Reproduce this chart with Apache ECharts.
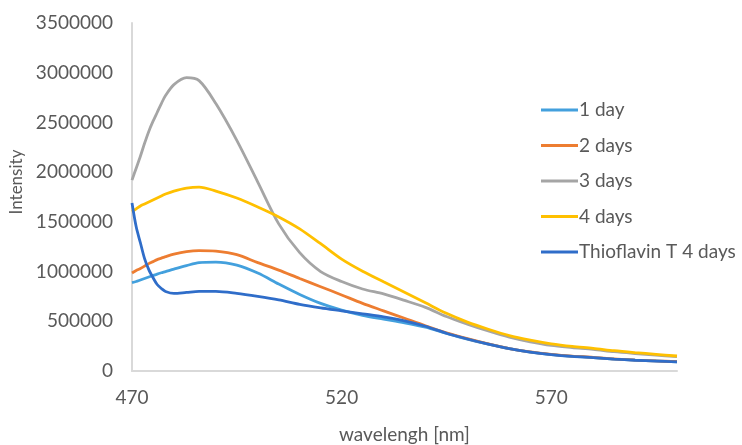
<!DOCTYPE html>
<html>
<head>
<meta charset="utf-8">
<script src="https://cdn.jsdelivr.net/npm/echarts@6/dist/echarts.min.js"></script>
<style>
  html, body { margin: 0; padding: 0; background: #ffffff; }
  #chart { width: 742px; height: 445px; }
</style>
</head>
<body>
<div id="chart"></div>
<script>
// Emission wavelengths (nm) shared by all spectra
const wavelengths = [470, 471, 472, 473, 474, 475, 476, 477, 478, 480, 483, 486, 490, 495, 500, 505, 510, 515, 520, 525, 530, 535, 540, 545, 550, 555, 560, 565, 570, 575, 580, 585, 590, 595, 600];

// Fluorescence intensity of each sample
const day1 = [890000, 900000, 915000, 930000, 945000, 960000, 975000, 988000, 1000000, 1025000, 1060000, 1090000, 1095000, 1065000, 985000, 875000, 770000, 680000, 612000, 560000, 522000, 485000, 440000, 378000, 320000, 270000, 224000, 190000, 165000, 148000, 135000, 120000, 109000, 101000, 93000];
const days2 = [985000, 1010000, 1030000, 1055000, 1080000, 1100000, 1120000, 1135000, 1150000, 1175000, 1200000, 1210000, 1205000, 1170000, 1090000, 1015000, 930000, 848000, 765000, 680000, 605000, 530000, 455000, 385000, 325000, 272000, 226000, 192000, 168000, 150000, 138000, 121000, 110000, 101000, 94000];
const days3 = [1920000, 2040000, 2160000, 2290000, 2410000, 2510000, 2600000, 2690000, 2770000, 2880000, 2950000, 2920000, 2690000, 2320000, 1900000, 1480000, 1190000, 1000000, 900000, 825000, 775000, 710000, 640000, 548000, 472000, 402000, 340000, 293000, 257000, 236000, 218000, 194000, 176000, 160000, 144000];
const days4 = [1600000, 1630000, 1660000, 1680000, 1700000, 1720000, 1740000, 1760000, 1780000, 1810000, 1840000, 1850000, 1810000, 1740000, 1650000, 1550000, 1430000, 1280000, 1125000, 1003000, 897000, 792000, 686000, 580000, 492000, 420000, 356000, 310000, 273000, 247000, 228000, 204000, 185000, 168000, 151000];
const thioflavin = [1690000, 1450000, 1290000, 1130000, 1020000, 940000, 870000, 830000, 800000, 780000, 790000, 800000, 800000, 780000, 750000, 715000, 670000, 635000, 605000, 575000, 545000, 505000, 450000, 380000, 322000, 270000, 224000, 190000, 165000, 147000, 134000, 120000, 108000, 100000, 92000];

const seriesNames = ['1 day', '2 days', '3 days', '4 days', 'Thioflavin T 4 days'];
const seriesValues = [day1, days2, days3, days4, thioflavin];
const seriesColors = ['#43A0DD', '#ED7D31', '#A5A5A5', '#FFC000', '#2F6DC9'];

const FONT = 'Lato, "Open Sans", sans-serif';
const TEXT = '#595959';

const chart = echarts.init(document.getElementById('chart'), null, { renderer: 'canvas' });

chart.setOption({
  animation: false,
  backgroundColor: '#ffffff',
  grid: { left: 132, right: 65, top: 23, bottom: 74, containLabel: false, outerBoundsMode: 'none' },
  legend: {
    orient: 'vertical',
    left: 536,
    top: 95,
    itemWidth: 37,
    itemHeight: 14,
    itemGap: 15.5,
    icon: 'path://M0,6L37,6L37,8.8L0,8.8Z',
    textStyle: { fontFamily: FONT, fontSize: 19, color: TEXT, lineHeight: 20, padding: [0, 0, 0, -4] },
    data: seriesNames
  },
  xAxis: {
    type: 'value',
    min: 470,
    max: 600,
    interval: 50,
    name: 'wavelengh [nm]',
    nameLocation: 'middle',
    nameGap: 54,
    nameTextStyle: { fontFamily: FONT, fontSize: 19, color: TEXT },
    axisLine: { show: true, lineStyle: { color: '#D9D9D9', width: 2 } },
    axisTick: { show: false },
    splitLine: { show: false },
    axisLabel: { fontFamily: FONT, fontSize: 19, color: TEXT, margin: 17, showMaxLabel: false }
  },
  yAxis: {
    type: 'value',
    min: 0,
    max: 3500000,
    interval: 500000,
    name: 'Intensity',
    nameLocation: 'middle',
    nameGap: 104,
    nameTextStyle: { fontFamily: FONT, fontSize: 17, color: TEXT, padding: [0, 0, 0, 30] },
    axisLine: { show: true, lineStyle: { color: '#D9D9D9', width: 2 } },
    axisTick: { show: false },
    splitLine: { show: false },
    axisLabel: { fontFamily: FONT, fontSize: 19, color: TEXT, margin: 19, formatter: v => String(v) }
  },
  series: seriesNames.map((name, i) => ({
    name: name,
    type: 'line',
    smooth: 0.3,
    symbol: 'none',
    color: seriesColors[i],
    lineStyle: { width: 2.8, color: seriesColors[i] },
    data: wavelengths.map((w, j) => [w, seriesValues[i][j]])
  }))
});
</script>
</body>
</html>
